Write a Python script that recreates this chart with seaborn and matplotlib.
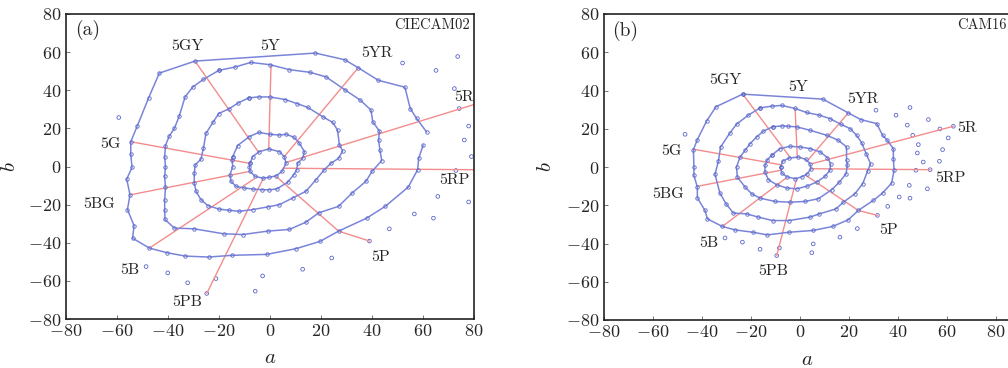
import matplotlib
matplotlib.use('Agg')
import matplotlib.pyplot as plt
import pandas as pd
import seaborn as sns

sns.set_style('ticks')
plt.rcParams['font.family'] = ['cmr10', 'DejaVu Serif']
plt.rcParams['mathtext.fontset'] = 'cm'
plt.rcParams['axes.formatter.use_mathtext'] = True

# ---- (a) CIECAM02: Munsell chroma rings in the a-b plane ----
a_ring2 = [(-7.8, 1.7), (-6.8, 5.2), (-4.2, 7.8), (-0.5, 9.2), (3.7, 7.8), (5.6, 5.2), (6.3, 1.7),
           (4.7, -2.6), (2.4, -4.9), (-0.5, -5.7), (-2.9, -6.1), (-5.8, -5.2), (-7.8, -2.6), (-8.1, 0)]
a_ring4 = [(-14.6, 5.2), (-12.7, 11.0), (-8.1, 15.7), (-4.4, 17.9), (0, 16.9), (3.7, 16.5), (6.3, 16.9),
           (9.5, 15.3), (11.5, 12.2), (13.5, 7.8), (12.8, 4.3), (10.8, 1.7), (10.5, -1.7), (9.3, -4.3),
           (6.9, -8.3), (2.6, -11.8), (-0.3, -12.2), (-3.1, -12.2), (-6.8, -11.8), (-10.1, -11.3),
           (-13.3, -10.4), (-15.3, -7.8), (-15.7, -4.3), (-14.6, 0), (-14.9, 3.5)]
a_ring6 = [(-8.4, 36.0), (-4.4, 36.5), (0, 36.5), (6.0, 35.1), (10.6, 33.0), (14.8, 31.0), (20.7, 26.1),
           (24.6, 23.1), (26.5, 19.1), (27.2, 11.3), (28.5, 8.2), (26.9, 4.3), (23.9, 1.7), (21.3, -1.7),
           (18.0, -7.0), (14.1, -13.0), (8.9, -16.5), (3.7, -20.0), (-0.9, -21.2), (-6.8, -22.6),
           (-12.0, -23.5), (-15.9, -23.0), (-20.1, -22.3), (-24.4, -20.5), (-27.1, -17.4), (-29.0, -13.0),
           (-29.7, -8.7), (-29.7, -3.5), (-29.3, 0.9), (-27.1, 3.8), (-26.1, 9.6), (-25.1, 17.4),
           (-22.2, 23.5), (-20.1, 27.8), (-15.9, 30.4), (-12.4, 33.4)]
a_ring8 = [(-20.1, 50.4), (-13.7, 52.2), (-7.5, 54.6), (0, 53.4), (7.6, 50.8), (15.7, 49.4), (22.0, 47.0),
           (29.3, 40.3), (35.4, 34.8), (39.6, 29.6), (40.3, 23.5), (42.9, 18.6), (42.6, 13.9), (43.1, 8.7),
           (43.8, 3.1), (40.0, -2.6), (37.6, -7.8), (32.2, -13.9), (26.9, -20.9), (19.1, -24.3),
           (14.1, -29.2), (7.6, -33.0), (-0.9, -33.9), (-10.7, -35.7), (-18.2, -35.3), (-29.7, -32.7),
           (-37.5, -32.3), (-41.2, -27.8), (-41.3, -22.6), (-41.3, -17.4), (-41.0, -11.0), (-41.3, -5.2),
           (-41.0, 0), (-41.3, 5.2), (-41.0, 11.0), (-39.5, 16.0), (-37.5, 20.0), (-35.6, 26.4),
           (-33.3, 36.5), (-30.3, 41.7), (-26.1, 45.7)]
a_ring10 = [(60.1, 11.3), (58.3, 4.3), (57.9, -1.7), (54.2, -10.8), (45.2, -20.9), (37.9, -27.1),
            (26.9, -33.9), (19.6, -39.3), (10.2, -43.1), (-1.3, -46.1), (-14.9, -46.6), (-24.1, -47.5),
            (-33.2, -47.0), (-40.5, -45.2), (-47.3, -42.8), (-53.9, -37.6), (-53.3, -31.0), (-55.9, -22.6),
            (-54.9, -14.8), (-56.2, -6.6), (-54.1, -0.5), (-54.6, 6.4), (-54.6, 13.0), (-52.0, 21.4),
            (-47.6, 36.0), (-43.4, 49.0), (-29.4, 55.3), (17.8, 59.5), (29.3, 56.0), (34.6, 51.8),
            (42.5, 45.2), (52.9, 41.6), (55.0, 30.4), (57.5, 25.2), (61.4, 18.1)]
a_extra = [(-59.3, 25.7), (52.0, 54.3), (65.1, 50.4), (73.6, 57.7), (72.3, 40.9), (74.2, 30.4),
           (77.9, 21.2), (76.2, 13.9), (79.0, 5.2), (72.9, -2.1), (65.8, -15.7), (77.9, -18.6),
           (56.6, -24.9), (64.1, -27.1), (46.8, -32.7), (39.0, -39.1), (24.2, -48.0), (12.8, -53.9),
           (-2.9, -57.4), (-5.8, -65.4), (-21.2, -58.8), (-24.8, -66.6), (-32.3, -61.0), (-40.1, -55.8),
           (-48.6, -52.5)]
a_hues = {
    '5R': [(6.3, 2.1), (80, 32.5)],
    '5YR': [(5.6, 5.2), (34.6, 51.8)],
    '5Y': [(-0.5, 9.2), (0.4, 53.4)],
    '5GY': [(-4.4, 7.3), (-29.4, 55.3)],
    '5G': [(-8.1, 1.7), (-54.6, 13.0)],
    '5BG': [(-8.1, -2.6), (-54.6, -14.8)],
    '5B': [(-6.1, -6.4), (-47.3, -42.8)],
    '5PB': [(-2.6, -6.1), (-24.8, -66.6)],
    '5P': [(2.4, -5.2), (26.9, -33.9), (39.0, -39.1)],
    '5RP': [(5.0, -0.9), (80, -1.7)],
}
a_label_pos = {'5R': (76.2, 36.5), '5YR': (41.8, 59.5), '5Y': (0, 63), '5GY': (-32.4, 62.9),
               '5G': (-62.7, 11.8), '5BG': (-67.2, -19.5), '5B': (-54.8, -54.5), '5PB': (-32.6, -71.3),
               '5P': (43.5, -47.7), '5RP': (72.3, -6.9)}

# ---- (b) CAM16 ----
b_ring2 = [(-7.9, 0), (-7.1, 3.1), (-4.4, 4.7), (-0.7, 5.2), (2.4, 4.0), (4.1, 1.7), (4.4, -0.9),
           (3.0, -3.5), (0.7, -5.2), (-2.0, -6.1), (-5.2, -5.2), (-7.5, -3.1)]
b_ring4 = [(-11.6, 6.1), (-8.2, 9.6), (-4.1, 10.8), (0, 10.5), (4.1, 9.6), (8.2, 7.9), (11.2, 4.9),
           (12.5, 1.7), (12.2, -1.7), (10.2, -4.9), (6.8, -7.9), (2.7, -10.1), (-1.4, -11.4), (-5.4, -11.0),
           (-9.5, -9.3), (-12.9, -6.6), (-14.3, -2.6), (-14.3, 0.9), (-13.3, 3.8)]
b_ring6 = [(-11.2, 21.0), (-7.5, 21.5), (-5.0, 21.3), (-1.4, 21.0), (4.1, 19.2), (10.9, 16.6), (15.6, 14.0),
           (19.0, 10.5), (19.0, 3.5), (19.3, 0.9), (18.8, -3.5), (16.1, -7.9), (12.9, -11.9), (7.5, -16.6),
           (2.0, -18.0), (-4.1, -18.4), (-10.2, -18.0), (-16.3, -16.3), (-19.7, -14.0), (-22.4, -10.5),
           (-25.6, -5.2), (-25.9, 0), (-24.5, 5.2), (-22.4, 8.7), (-20.4, 12.2), (-17.7, 15.7), (-15.0, 18.7)]
b_ring8 = [(-16.3, 30.9), (-11.6, 31.8), (-7.5, 32.2), (-2.0, 30.6), (2.7, 28.5), (7.9, 27.1), (12.2, 25.3),
           (16.6, 22.4), (20.4, 20.1), (23.1, 16.6), (25.2, 12.6), (27.0, 7.0), (28.8, 1.7), (27.6, -2.1),
           (25.6, -8.7), (22.4, -14.0), (17.7, -18.4), (14.7, -21.9), (7.9, -24.5), (4.1, -26.2),
           (-4.4, -28.0), (-11.2, -28.0), (-17.0, -26.2), (-21.8, -24.5), (-27.2, -24.1), (-30.2, -19.2),
           (-32.7, -13.6), (-34.7, -3.8), (-33.3, 3.1), (-32.4, 10.5), (-28.6, 17.8), (-25.9, 22.4),
           (-21.1, 27.1)]
b_ring10 = [(-23.4, 38.1), (9.3, 35.5), (19.7, 28.3), (24.8, 24.8), (31.3, 22.7), (33.7, 16.6), (35.6, 14.0),
            (38.1, 9.6), (38.1, 4.4), (38.4, -1.7), (37.4, -8.4), (33.7, -13.6), (29.9, -17.5), (23.8, -22.7),
            (19.7, -27.6), (13.3, -31.1), (5.2, -33.2), (-4.4, -34.1), (-13.3, -35.5), (-19.3, -34.1),
            (-26.5, -32.9), (-31.7, -31.1), (-37.8, -27.1), (-38.8, -22.7), (-41.9, -16.1), (-41.9, -10.5),
            (-43.3, -4.4), (-43.3, 0), (-43.5, 9.1), (-41.9, 14.3), (-38.1, 24.1), (-34.3, 31.5)]
b_extra = [(-46.9, 17.1), (31.0, 29.7), (39.2, 27.1), (44.9, 31.1), (43.8, 21.9), (52.4, 24.8),
           (48.3, 11.7), (47.9, 7.3), (50.3, 2.6), (58.2, 9.1), (60.5, 15.2), (56.9, 3.0), (47.3, -1.7),
           (53.1, -1.4), (44.6, -9.6), (40.5, -15.7), (44.9, -16.3), (52.0, -11.4), (35.8, -20.6),
           (31.6, -25.3), (23.4, -32.2), (16.3, -36.7), (5.4, -40.2), (4.8, -44.8), (-8.4, -42.3),
           (-9.5, -46.3), (-16.3, -43.0), (-23.5, -39.3), (-30.6, -37.1), (57.1, 19.9), (46.0, 16.6),
           (62.6, 21.3)]
b_hues = {
    '5R': [(4.8, 1.7), (62.6, 21.3)],
    '5YR': [(3.4, 3.8), (19.7, 28.3)],
    '5Y': [(-1.1, 5.2), (-2.0, 30.6)],
    '5GY': [(-4.1, 5.2), (-23.4, 38.1)],
    '5G': [(-7.9, 1.2), (-43.5, 9.3)],
    '5BG': [(-7.9, -1.7), (-41.9, -10.1)],
    '5B': [(-5.7, -5.8), (-31.7, -31.1)],
    '5PB': [(-1.4, -6.1), (-9.5, -46.3)],
    '5P': [(2.4, -4.4), (23.8, -22.7), (31.6, -25.3)],
    '5RP': [(4.4, -0.9), (53.1, -1.4)],
}
b_label_pos = {'5R': (68.3, 20.5), '5YR': (25.9, 35.5), '5Y': (-0.7, 42.0), '5GY': (-30.6, 45.5),
               '5G': (-52.4, 8.4), '5BG': (-53.7, -14.0), '5B': (-37.1, -39.9), '5PB': (-10.9, -54.2),
               '5P': (36.1, -33.2), '5RP': (61.5, -5.6)}

BLUE = '#7a85da'
EDGE = '#5a66c8'
RED = '#f48c8c'


def to_df(pts, close=False):
    if close:
        pts = pts + pts[:1]
    return pd.DataFrame(pts, columns=['a', 'b'])


def draw_panel(ax, rings, outer, outer_closed, hues, extra, label_pos, tag, name, name_x, xmax):
    for key, pts in hues.items():
        sns.lineplot(data=to_df(pts), x='a', y='b', sort=False, estimator=None,
                     color=RED, lw=1.0, ax=ax)
    for r in rings + [outer]:
        sns.lineplot(data=to_df(r, r is not outer or outer_closed), x='a', y='b', sort=False,
                     estimator=None, color=BLUE, lw=1.1, marker='o', markersize=2.5,
                     markerfacecolor='none', markeredgecolor=EDGE, markeredgewidth=0.6, ax=ax)
    sns.scatterplot(data=to_df(extra), x='a', y='b', marker='o', s=7, facecolor='none',
                    edgecolor=EDGE, linewidth=0.6, ax=ax)
    for key, (x, y) in label_pos.items():
        ax.text(x, y, key, ha='center', va='center', fontsize=11.5)
    ax.text(-71.5, 71.4, tag, ha='center', va='center', fontsize=14)
    ax.text(name_x, 74.4, name, ha='right', va='center', fontsize=10.5)
    ax.set_xlim(-80, xmax)
    ax.set_ylim(-80, 80)
    ax.set_xticks(range(-80, 81, 20))
    ax.set_yticks(range(-80, 81, 20))
    ax.tick_params(direction='in', length=3, width=0.7, labelsize=13, pad=3, color='#777777')
    for s in ax.spines.values():
        s.set_linewidth(1.2)
        s.set_color('#222222')
    ax.set_xlabel('$a$', fontsize=15)
    ax.set_ylabel('$b$', fontsize=15)
    ax.xaxis.set_label_coords(0.5, -0.10)
    ax.yaxis.set_label_coords(-0.115, 0.5)


fig = plt.figure(figsize=(10.08, 3.68), dpi=100)
ax1 = fig.add_axes([66 / 1008, 49 / 368, 408 / 1008, 305 / 368])
ax2 = fig.add_axes([604 / 1008, 48 / 368, 406.7 / 1008, 306 / 368])

draw_panel(ax1, [a_ring2, a_ring4, a_ring6, a_ring8], a_ring10, False, a_hues, a_extra,
           a_label_pos, '(a)', 'CIECAM02', 78.5, 80)
draw_panel(ax2, [b_ring2, b_ring4, b_ring6, b_ring8], b_ring10, True, b_hues, b_extra,
           b_label_pos, '(b)', 'CAM16', 84.5, 86)
ax2.yaxis.set_label_coords(-0.12, 0.5)

fig.savefig('out.png', dpi=100)
